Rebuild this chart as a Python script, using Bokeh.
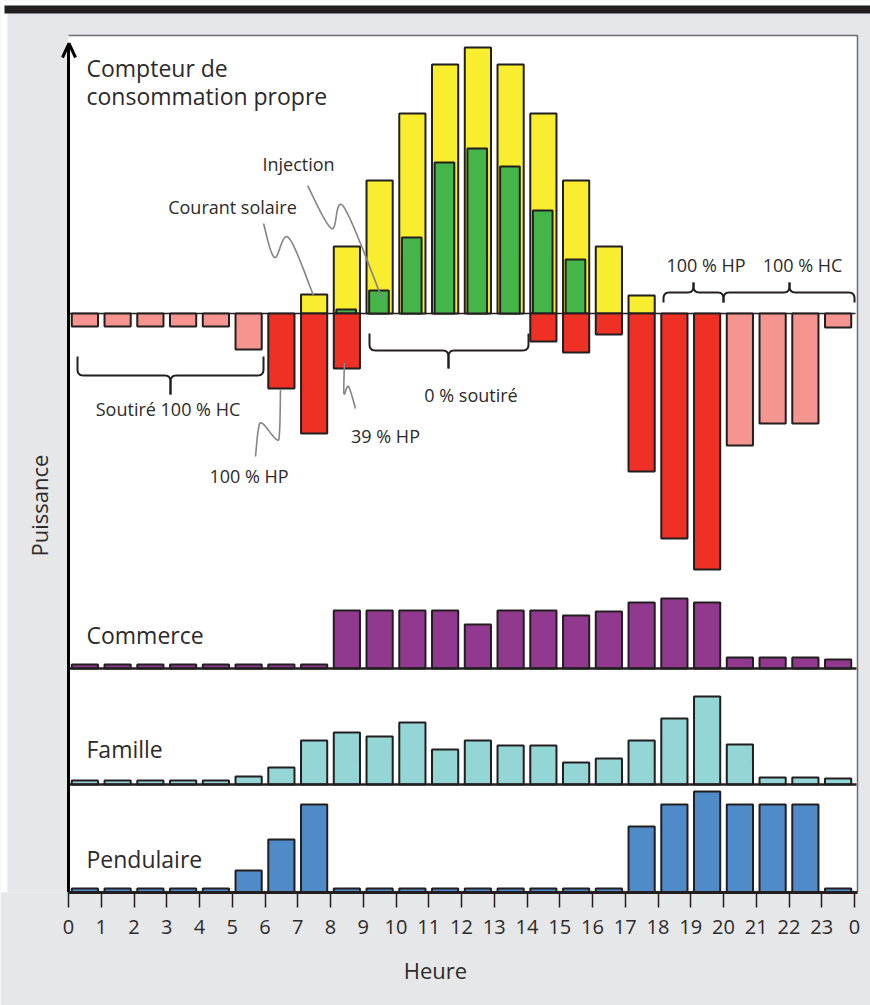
import numpy as np
from bokeh.plotting import figure
from bokeh.models import Range1d, FixedTicker
from bokeh.core.properties import value
from bokeh.embed import file_html
from bokeh.resources import INLINE

# ---------------- data ----------------
hours = list(range(24))
tick_labels = [str(h) for h in range(24)] + ["0"]

# Compteur de consommation propre (arbitrary power units)
solaire = [0, 0, 0, 0, 0, 0, 0, 1.9, 6.7, 13.3, 20.0, 24.9, 26.6, 24.9, 20.0, 13.3, 6.7, 1.8, 0, 0, 0, 0, 0, 0]
injection = [0, 0, 0, 0, 0, 0, 0, 0, 0.4, 2.3, 7.6, 15.1, 16.5, 14.7, 10.3, 5.4, 0, 0, 0, 0, 0, 0, 0, 0]
soutirage = [1.3, 1.3, 1.3, 1.3, 1.3, 3.6, 7.5, 12.0, 5.5, 0, 0, 0, 0, 0, 2.8, 3.9, 2.1, 15.8, 22.5, 25.6, 13.2, 11.0, 11.0, 1.4]
tarif = ["HC"] * 6 + ["HP"] * 14 + ["HC"] * 4

commerce = [0.4] * 8 + [5.8, 5.8, 5.8, 5.8, 4.4, 5.8, 5.8, 5.3, 5.7, 6.6, 7.0, 6.6] + [1.1, 1.1, 1.1, 0.9]
famille = [0.4, 0.4, 0.4, 0.4, 0.4, 0.8, 1.7, 4.4, 5.2, 4.8, 6.2, 3.5, 4.4, 3.9, 3.9, 2.2, 2.6, 4.4, 6.6, 8.8, 4.0, 0.7, 0.7, 0.6]
pendulaire = [0.4, 0.4, 0.4, 0.4, 0.4, 2.2, 5.3, 8.8, 0.4, 0.4, 0.4, 0.4, 0.4, 0.4, 0.4, 0.4, 0.4, 6.6, 8.8, 10.1, 8.8, 8.8, 8.8, 0.4]

# ---------------- style ----------------
BG = "#e6e7e8"
DARK = "#231f20"
TXT = "#2d2a2b"
GREY_LINE = "#858585"
C_PINK = "#f6948f"
C_RED = "#ee3124"
C_YEL = "#f8ed2f"
C_GRN = "#44b649"
C_PUR = "#91398f"
C_CYA = "#94d5d6"
C_BLU = "#4e8bc8"
FONT = "Open Sans"

W, H = 870, 1005
FRAME_BOTTOM = 892   # page y of the time axis
PXH = 32.75          # pixels per hour
SCALE = 10.0         # pixels per power unit


def X(px):            # page x -> data x
    return (px - 68) / PXH


def Y(py):            # page y -> data y
    return FRAME_BOTTOM - py


Z_TOP = Y(313)
Z_COM = Y(668)
Z_FAM = Y(784)
Z_PEN = Y(892)

p = figure(width=W, height=H, x_range=Range1d(X(0), X(W)), y_range=Range1d(0, FRAME_BOTTOM),
           output_backend="svg", toolbar_location=None, y_axis_location=None,
           min_border_left=0, min_border_right=0, min_border_top=0,
           min_border_bottom=H - FRAME_BOTTOM,
           background_fill_color=BG, border_fill_color=BG, outline_line_color=None)
p.grid.visible = False

# page margins / dark band at top
p.quad(left=[X(0)], right=[X(W)], bottom=[Y(5)], top=[FRAME_BOTTOM], fill_color="white", line_color=None)
p.quad(left=[X(0)], right=[X(7)], bottom=[0], top=[FRAME_BOTTOM], fill_color="white", line_color=None)
p.quad(left=[X(4)], right=[X(W)], bottom=[Y(13)], top=[Y(5)], fill_color=DARK, line_color=None)
# white panel
p.quad(left=[0], right=[X(857)], bottom=[0], top=[Y(35)], fill_color="white", line_color=None)
p.line([0, X(857), X(857)], [Y(35), Y(35), 0], line_color="#6d6e71", line_width=1.5)

xc = [h + 0.5 for h in hours]

# ---- top panel ----
p.line([0, X(855)], [Z_TOP, Z_TOP], line_color=DARK, line_width=1.5)
sx = [xc[i] for i in hours if solaire[i] > 0]
st = [Z_TOP + solaire[i] * SCALE for i in hours if solaire[i] > 0]
p.vbar(x=sx, width=0.8, bottom=Z_TOP, top=st, fill_color=C_YEL, line_color=DARK, line_width=2)
ix = [xc[i] - 0.02 for i in hours if injection[i] > 0]
it = [Z_TOP + injection[i] * SCALE for i in hours if injection[i] > 0]
p.vbar(x=ix, width=0.6, bottom=Z_TOP, top=it, fill_color=C_GRN, line_color=DARK, line_width=2)
dx = [xc[i] for i in hours if soutirage[i] > 0]
db = [Z_TOP - soutirage[i] * SCALE for i in hours if soutirage[i] > 0]
dc = [(C_RED if tarif[i] == "HP" else C_PINK) for i in hours if soutirage[i] > 0]
p.vbar(x=dx, width=0.8, bottom=db, top=Z_TOP, fill_color=dc, line_color=DARK, line_width=2)

# ---- profile panels ----
for vals, base, col in [(commerce, Z_COM, C_PUR), (famille, Z_FAM, C_CYA), (pendulaire, Z_PEN, C_BLU)]:
    p.vbar(x=xc, width=0.8, bottom=base, top=[base + v * SCALE for v in vals],
           fill_color=col, line_color=DARK, line_width=2)
for base in (Z_COM, Z_FAM):
    p.line([0, X(856)], [base, base], line_color=DARK, line_width=2.5)

# ---- left axis with arrow ----
p.line([0, 0], [0, Y(44)], line_color="black", line_width=3)
p.line([X(62), X(68.5), X(75)], [Y(57), Y(43), Y(57)], line_color="black", line_width=3)
p.text(x=[X(38)], y=[Y(505)], text=["Puissance"], angle=np.pi / 2, text_align="center",
       text_baseline="middle", text_font=value(FONT), text_font_size="22px", text_color=TXT)


# ---- braces ----
def qbez(a, c, b, n=8):
    t = np.linspace(0, 1, n)
    return [((1 - s) ** 2 * a[0] + 2 * (1 - s) * s * c[0] + s ** 2 * b[0],
             (1 - s) ** 2 * a[1] + 2 * (1 - s) * s * c[1] + s ** 2 * b[1]) for s in t]


def brace(x1, x2, xm, y_end, y_mid, y_tip, r=6):
    s = 1 if y_mid > y_end else -1
    halves = []
    for xe, d in ((x1, 1), (x2, -1)):
        pts = [(xe, y_end)]
        pts += qbez((xe, y_mid - s * r), (xe, y_mid), (xe + d * r, y_mid))
        pts += qbez((xm - d * r, y_mid), (xm, y_mid), (xm, y_mid + s * r))
        pts += [(xm, y_tip)]
        halves.append(pts)
    return halves


braces = (brace(77, 263, 170, 356, 375, 394) + brace(369, 528, 448, 333, 350, 368)
          + brace(663, 723, 693, 302, 292, 282) + brace(723, 854, 789, 302, 292, 282))
p.multi_line(xs=[[X(a) for a, b in h] for h in braces], ys=[[Y(b) for a, b in h] for h in braces],
             line_color=DARK, line_width=2)


# ---- leader squiggles ----
def catmull(points, n=14):
    pts = [points[0]] + points + [points[-1]]
    out = []
    for i in range(1, len(pts) - 2):
        p0, p1, p2, p3 = [np.array(q, float) for q in pts[i - 1:i + 3]]
        for t in np.linspace(0, 1, n, endpoint=False):
            v = 0.5 * (2 * p1 + (-p0 + p2) * t + (2 * p0 - 5 * p1 + 4 * p2 - p3) * t * t
                       + (-p0 + 3 * p1 - 3 * p2 + p3) * t ** 3)
            out.append(tuple(v))
    out.append(points[-1])
    return out


leaders = [
    [(263, 223), (274, 257), (288, 237), (313, 295)],
    [(307, 185), (331, 228), (343, 206), (382, 299)],
    [(280, 389), (279, 432), (276, 439), (262, 423), (258, 428), (255, 456)],
    [(344, 362), (343.5, 393), (348, 386), (355, 408)],
]
curves = [catmull(l) for l in leaders]
p.multi_line(xs=[[X(a) for a, b in c] for c in curves], ys=[[Y(b) for a, b in c] for c in curves],
             line_color=GREY_LINE, line_width=1.6)

# ---- texts ----
p.text(x=[X(86)] * 5, y=[Y(67), Y(95), Y(634), Y(748), Y(858)],
       text=["Compteur de", "consommation propre", "Commerce", "Famille", "Pendulaire"],
       text_font=value(FONT), text_font_size="23px", text_align="left",
       text_baseline="alphabetic", text_color=TXT)
ann_x = [298, 232, 167.5, 248.5, 385, 470.5, 705.5, 802]
ann_y = [163, 206, 408, 475, 435, 394, 264, 264]
ann_t = ["Injection", "Courant solaire", "Soutiré 100 % HC", "100 % HP", "39 % HP",
         "0 % soutiré", "100 % HP", "100 % HC"]
p.text(x=[X(a) for a in ann_x], y=[Y(b) for b in ann_y], text=ann_t,
       text_font=value(FONT), text_font_size="18px", text_align="center",
       text_baseline="alphabetic", text_color=TXT)

# ---- bottom axis ----
ax = p.xaxis[0]
ax.ticker = FixedTicker(ticks=list(range(25)), minor_ticks=[])
ax.major_label_overrides = {i: lab for i, lab in enumerate(tick_labels)}
ax.bounds = (0, X(857))
ax.axis_line_width = 3
ax.axis_line_color = DARK
ax.major_tick_in = 0
ax.major_tick_out = 15
ax.major_tick_line_width = 1.5
ax.major_tick_line_color = DARK
ax.minor_tick_out = 0
ax.minor_tick_in = 0
ax.major_label_standoff = 12
ax.major_label_text_font = FONT
ax.major_label_text_font_size = "20px"
ax.major_label_text_color = TXT
ax.axis_label = "Heure"
ax.axis_label_text_font = FONT
ax.axis_label_text_font_size = "22px"
ax.axis_label_text_font_style = "normal"
ax.axis_label_text_color = TXT
ax.axis_label_standoff = 18

open("out.html", "w").write(file_html(p, INLINE))
